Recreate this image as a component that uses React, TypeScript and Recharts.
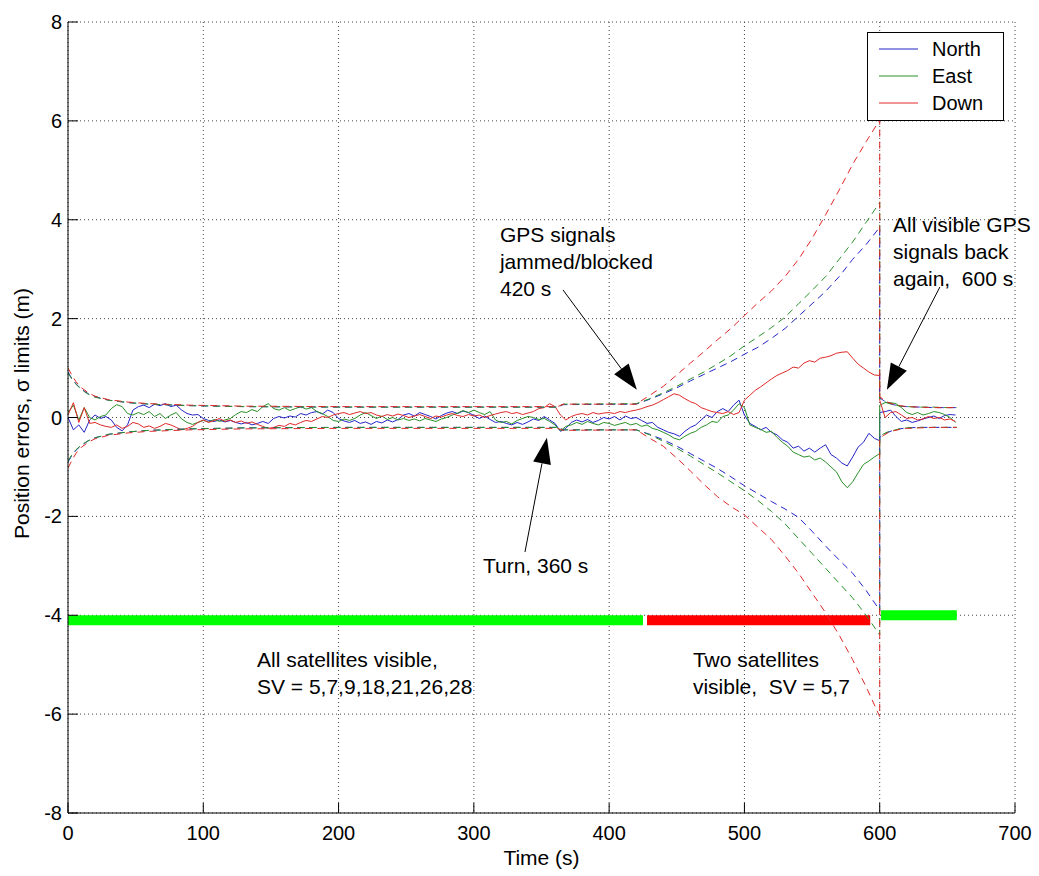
import { LineChart, Line, XAxis, YAxis, CartesianGrid, ReferenceLine, ReferenceDot } from 'recharts'

const FONT = '"Liberation Sans", Arial, Helvetica, sans-serif'

// error traces sampled every 4 s up to 596 s, then the jump at 600 s (before / after), then 604..656 s
const STEP = 4
const NORTH = [
  0.0, -0.25, -0.15, -0.3, -0.05, 0.05, -0.02, 0.02, -0.05, -0.2,
  -0.27, -0.15, 0.15, 0.22, 0.25, 0.2, 0.27, 0.24, 0.28, 0.22,
  0.25, 0.15, 0.08, 0.05, 0.06, -0.02, -0.06, -0.08, -0.05, -0.09,
  -0.06, -0.1, -0.13, -0.1, -0.15, -0.12, -0.08, -0.12, -0.02, 0.02,
  -0.01, 0.03, 0.01, 0.08, 0.05, 0.1, 0.12, 0.07, 0.15, 0.1,
  -0.02, -0.07, -0.1, -0.06, -0.12, -0.09, -0.14, -0.08, -0.11, -0.05,
  -0.09, -0.04, 0.05, 0.08, 0.03, 0.1, 0.06, 0.02, -0.03, 0.04,
  0.09, 0.12, 0.08, 0.13, 0.1, 0.04, -0.02, 0.03, -0.04, -0.1,
  -0.08, -0.12, -0.15, -0.1, -0.14, -0.09, -0.03, -0.06, 0.02, -0.05,
  -0.12, -0.28, -0.22, -0.1, -0.05, -0.09, -0.04, -0.1, -0.06, 0.0,
  -0.03, 0.02, -0.05, 0.03, -0.02, 0.0, -0.06, -0.12, -0.1, -0.2,
  -0.25, -0.3, -0.33, -0.38, -0.28, -0.2, -0.15, -0.05, 0.05, 0.0,
  0.12, 0.18, 0.12, 0.25, 0.35, 0.05, -0.12, -0.18, -0.25, -0.2,
  -0.3, -0.35, -0.45, -0.5, -0.62, -0.58, -0.68, -0.62, -0.7, -0.62,
  -0.55, -0.75, -0.82, -0.92, -0.98, -0.8, -0.6, -0.5, -0.32, -0.42,
]
const NORTH_JUMP = [-0.47, 0.1]
const NORTH_AFTER = [0.12, 0.15, 0.02, -0.08, -0.05, -0.1, -0.07, -0.03, 0.0, 0.03, -0.02, 0.04, 0.06, 0.05]

const EAST = [
  0.1, 0.25, -0.05, 0.2, 0.0, -0.05, 0.02, 0.05, 0.18, 0.26,
  0.22, 0.08, 0.05, 0.1, 0.06, 0.12, 0.02, 0.08, -0.02, 0.05,
  0.1, -0.03, -0.1, -0.14, -0.1, -0.06, -0.09, -0.04, -0.08, -0.05,
  -0.02, 0.06, 0.12, 0.1, 0.16, 0.12, 0.22, 0.28, 0.18, 0.15,
  0.2, 0.14, 0.18, 0.22, 0.17, 0.2, 0.12, 0.08, 0.02, -0.06,
  -0.08, -0.03, -0.06, -0.02, 0.05, 0.1, 0.04, -0.02, 0.03, -0.04,
  0.0, -0.05, -0.02, -0.06, -0.03, -0.07, -0.02, -0.05, -0.08, -0.03,
  0.0, 0.05, 0.09, 0.14, 0.1, 0.15, 0.1, 0.06, 0.12, -0.05,
  -0.1, -0.08, -0.13, -0.06, -0.02, 0.02, 0.0, -0.04, -0.02, -0.08,
  -0.15, -0.27, -0.18, -0.15, -0.1, -0.14, -0.08, -0.12, -0.15, -0.1,
  -0.12, -0.16, -0.13, -0.1, -0.15, -0.12, -0.18, -0.15, -0.22, -0.25,
  -0.3, -0.35, -0.42, -0.45, -0.38, -0.32, -0.28, -0.2, -0.15, -0.08,
  -0.1, 0.02, 0.05, 0.15, 0.28, 0.2, -0.15, -0.2, -0.24, -0.3,
  -0.28, -0.4, -0.5, -0.58, -0.7, -0.75, -0.8, -0.78, -0.86, -0.82,
  -0.9, -1.0, -1.1, -1.3, -1.42, -1.3, -1.12, -0.95, -0.88, -0.8,
]
const EAST_JUMP = [-0.73, 0.25]
const EAST_AFTER = [0.3, 0.3, 0.28, 0.2, 0.1, 0.06, 0.1, 0.05, 0.08, 0.12, 0.1, 0.06, 0.0, -0.1]

const DOWN = [
  0.05, 0.3, -0.1, 0.2, -0.12, -0.1, -0.15, -0.18, -0.2, -0.15,
  -0.22, -0.18, -0.1, -0.13, -0.2, -0.17, -0.22, -0.18, -0.12, -0.15,
  -0.2, -0.25, -0.22, -0.18, -0.1, -0.05, -0.1, -0.06, -0.02, -0.08,
  -0.05, -0.1, -0.07, -0.12, -0.09, -0.14, -0.18, -0.22, -0.2, -0.16,
  -0.18, -0.12, -0.15, -0.1, -0.06, -0.08, -0.03, 0.02, 0.0, 0.05,
  0.08, 0.1, 0.06, 0.09, 0.12, 0.08, 0.1, 0.05, 0.02, 0.06,
  0.03, 0.07, 0.04, 0.0, 0.03, 0.06, 0.02, -0.02, 0.03, 0.01,
  0.05, 0.08, 0.04, 0.02, 0.06, 0.03, 0.05, 0.0, 0.04, 0.07,
  0.1, 0.12, 0.08, 0.1, 0.06, 0.09, 0.12, 0.18, 0.2, 0.28,
  0.22, 0.05, -0.05, 0.02, 0.06, 0.08, 0.05, 0.1, 0.07, 0.09,
  0.1, 0.08, 0.12, 0.1, 0.13, 0.15, 0.18, 0.22, 0.25, 0.3,
  0.36, 0.42, 0.48, 0.45, 0.38, 0.32, 0.28, 0.2, 0.16, 0.12,
  0.1, 0.08, 0.12, 0.06, 0.1, 0.35, 0.45, 0.55, 0.62, 0.7,
  0.78, 0.85, 0.9, 0.95, 1.02, 1.0, 1.1, 1.15, 1.12, 1.2,
  1.22, 1.25, 1.3, 1.32, 1.33, 1.2, 1.08, 1.0, 0.92, 0.86,
]
const DOWN_JUMP = [0.85, 0.35]
const DOWN_AFTER = [0.0, 0.1, 0.12, 0.05, -0.02, 0.0, -0.05, -0.03, 0.02, -0.02, 0.0, -0.05, -0.03, -0.08]

// sigma limits (dashed), read at these times
const SIGMA_TIME = [
  0, 3, 6, 10, 15, 20, 30, 45, 60, 90, 130, 200, 300, 362, 366, 420,
  430, 440, 450, 460, 470, 480, 490, 500, 510, 520, 530, 540, 550, 560, 570, 580, 590, 600,
  600, 603, 606, 610, 615, 620, 630, 640, 650, 657,
]
const NORTH_UP = [
  0.92, 0.78, 0.68, 0.57, 0.48, 0.42, 0.35, 0.3, 0.27, 0.24, 0.22, 0.21, 0.21, 0.21, 0.26, 0.27,
  0.37, 0.48, 0.6, 0.74, 0.87, 1.0, 1.13, 1.28, 1.42, 1.6, 1.8, 2.05, 2.3, 2.55, 2.85, 3.2, 3.5, 3.85,
  0.4, 0.34, 0.3, 0.26, 0.23, 0.22, 0.21, 0.2, 0.2, 0.2,
]
const NORTH_LO = [
  -0.9, -0.76, -0.66, -0.56, -0.47, -0.41, -0.34, -0.29, -0.26, -0.23, -0.21, -0.2, -0.2, -0.2, -0.25, -0.25,
  -0.34, -0.45, -0.58, -0.73, -0.88, -1.03, -1.2, -1.38, -1.54, -1.7, -1.85, -2.02, -2.3, -2.6, -2.88, -3.15, -3.5, -3.9,
  -0.4, -0.34, -0.3, -0.26, -0.23, -0.21, -0.2, -0.2, -0.2, -0.2,
]
const EAST_UP = [
  0.9, 0.77, 0.67, 0.56, 0.47, 0.41, 0.35, 0.3, 0.27, 0.24, 0.22, 0.21, 0.21, 0.21, 0.27, 0.28,
  0.38, 0.5, 0.63, 0.78, 0.92, 1.08, 1.25, 1.45, 1.63, 1.82, 2.03, 2.3, 2.57, 2.85, 3.2, 3.55, 3.95, 4.35,
  0.38, 0.33, 0.29, 0.26, 0.23, 0.22, 0.21, 0.21, 0.2, 0.2,
]
const EAST_LO = [
  -0.88, -0.75, -0.65, -0.55, -0.47, -0.41, -0.34, -0.29, -0.26, -0.23, -0.21, -0.2, -0.2, -0.2, -0.25, -0.25,
  -0.35, -0.48, -0.62, -0.78, -0.95, -1.12, -1.3, -1.48, -1.68, -1.9, -2.15, -2.45, -2.75, -3.05, -3.35, -3.65, -4.0, -4.4,
  -0.38, -0.33, -0.29, -0.26, -0.23, -0.21, -0.2, -0.2, -0.2, -0.2,
]
const DOWN_UP = [
  1.0, 0.85, 0.72, 0.6, 0.5, 0.43, 0.36, 0.31, 0.28, 0.25, 0.23, 0.22, 0.22, 0.22, 0.27, 0.27,
  0.45, 0.63, 0.86, 1.1, 1.33, 1.57, 1.8, 2.06, 2.32, 2.56, 2.85, 3.2, 3.62, 4.1, 4.6, 5.12, 5.58, 6.02,
  0.42, 0.36, 0.31, 0.27, 0.24, 0.22, 0.21, 0.2, 0.2, 0.2,
]
const DOWN_LO = [
  -1.02, -0.86, -0.72, -0.6, -0.5, -0.43, -0.36, -0.31, -0.28, -0.25, -0.23, -0.22, -0.22, -0.22, -0.26, -0.25,
  -0.42, -0.58, -0.82, -1.08, -1.35, -1.6, -1.8, -1.97, -2.22, -2.47, -2.8, -3.15, -3.55, -3.95, -4.4, -4.9, -5.45, -6.05,
  -0.42, -0.36, -0.31, -0.27, -0.24, -0.22, -0.21, -0.2, -0.2, -0.2,
]

// satellite visibility bars
const BAR_START = [0, 428, 601]
const BAR_END = [425, 593, 657]
const BAR_LEVEL = [-4.1, -4.1, -4.0]
const BAR_STATE = ['all', 'two', 'all']

const SERIES = ['North', 'East', 'Down']
const X_TICKS = [0, 100, 200, 300, 400, 500, 600, 700]
const Y_TICKS = [-8, -6, -4, -2, 0, 2, 4, 6, 8]

const NOTE_TEXT = [
  ['GPS signals', 'jammed/blocked', '420 s'],
  ['All visible GPS', 'signals back', 'again,  600 s'],
  ['Turn, 360 s'],
  ['All satellites visible,', 'SV = 5,7,9,18,21,26,28'],
  ['Two satellites', 'visible,  SV = 5,7'],
]
const NOTE_AT = [
  [319.3, 3.56],
  [609.8, 3.75],
  [306.7, -3.15],
  [139.7, -5.05],
  [461.9, -5.05],
]
// arrows: [tail t, tail v, head t, head v]
const ARROWS = [
  [365.9, 2.58, 420.5, 0.56],
  [337.8, -2.72, 354, -0.41],
  [644.5, 2.64, 605.3, 0.56],
]

const COLORS: Record<string, string> = { North: '#2424c8', East: '#289028', Down: '#e02828' }
const BAR_COLORS: Record<string, string> = { all: '#00ff00', two: '#ff0000' }

const errTime = [
  ...NORTH.map((_, i) => i * STEP),
  600, 600,
  ...NORTH_AFTER.map((_, i) => 604 + i * STEP),
]
const zip = (ts: number[], vs: number[]) => ts.map((t, i) => ({ t, v: vs[i] }))

const errors = [
  { name: 'North', data: zip(errTime, [...NORTH, ...NORTH_JUMP, ...NORTH_AFTER]) },
  { name: 'East', data: zip(errTime, [...EAST, ...EAST_JUMP, ...EAST_AFTER]) },
  { name: 'Down', data: zip(errTime, [...DOWN, ...DOWN_JUMP, ...DOWN_AFTER]) },
]
const sigmas = [
  { name: 'North', key: 'nu', data: zip(SIGMA_TIME, NORTH_UP) },
  { name: 'North', key: 'nl', data: zip(SIGMA_TIME, NORTH_LO) },
  { name: 'East', key: 'eu', data: zip(SIGMA_TIME, EAST_UP) },
  { name: 'East', key: 'el', data: zip(SIGMA_TIME, EAST_LO) },
  { name: 'Down', key: 'du', data: zip(SIGMA_TIME, DOWN_UP) },
  { name: 'Down', key: 'dl', data: zip(SIGMA_TIME, DOWN_LO) },
]
const bars = BAR_START.map((s, i) => ({
  color: BAR_COLORS[BAR_STATE[i]],
  data: [{ t: s, v: BAR_LEVEL[i] }, { t: BAR_END[i], v: BAR_LEVEL[i] }],
}))

function XTick({ x, y, payload }: any) {
  return (
    <g>
      <line x1={x} y1={y} x2={x} y2={y - 10} stroke="#000" />
      <text x={x} y={y + 27} textAnchor="middle" fontSize={20} fontFamily={FONT} fill="#000">
        {payload.value}
      </text>
    </g>
  )
}

function YTick({ x, y, payload }: any) {
  return (
    <g>
      <line x1={x} y1={y} x2={x + 10} y2={y} stroke="#000" />
      <text x={x - 6} y={y + 7} textAnchor="end" fontSize={20} fontFamily={FONT} fill="#000">
        {payload.value}
      </text>
    </g>
  )
}

function Arrow(props: any) {
  const { x1, y1, x2, y2 } = props
  const dx = x2 - x1
  const dy = y2 - y1
  const len = Math.hypot(dx, dy)
  const ux = dx / len
  const uy = dy / len
  const hl = 26
  const hw = 9
  const bx = x2 - ux * hl
  const by = y2 - uy * hl
  const pts = `${x2},${y2} ${bx - uy * hw},${by + ux * hw} ${bx + uy * hw},${by - ux * hw}`
  return (
    <g>
      <line x1={x1} y1={y1} x2={bx} y2={by} stroke="#000" strokeWidth={1} />
      <polygon points={pts} fill="#000" />
    </g>
  )
}

function noteShape(lines: string[]) {
  return (p: any) => (
    <text x={p.cx} y={p.cy} fontSize={21} fontFamily={FONT} fill="#000" style={{ whiteSpace: 'pre' }}>
      {lines.map((l, i) => (
        <tspan key={i} x={p.cx} dy={i === 0 ? 0 : 27}>
          {l}
        </tspan>
      ))}
    </text>
  )
}

export default function App() {
  return (
    <div style={{ position: 'relative', width: 1039, height: 876, background: '#fff' }}>
      <style>{'body{margin:0}'}</style>
      <LineChart width={1039} height={876} margin={{ top: 22, right: 24, bottom: 0, left: 8 }}>
        <CartesianGrid stroke="#444" strokeDasharray="1 3" />
        <XAxis
          type="number"
          dataKey="t"
          domain={[0, 700]}
          ticks={X_TICKS}
          allowDataOverflow
          height={63}
          tickSize={0}
          tickMargin={0}
          tickLine={false}
          axisLine={{ stroke: '#000' }}
          tick={<XTick />}
          label={({ viewBox }: any) => (
            <text
              x={viewBox.x + viewBox.width / 2}
              y={865}
              textAnchor="middle"
              fontSize={21}
              fontFamily={FONT}
              fill="#000"
            >
              Time (s)
            </text>
          )}
        />
        <YAxis
          type="number"
          domain={[-8, 8]}
          ticks={Y_TICKS}
          allowDataOverflow
          width={60}
          tickSize={0}
          tickMargin={0}
          tickLine={false}
          axisLine={{ stroke: '#000' }}
          tick={<YTick />}
          label={({ viewBox }: any) => {
            const cy = viewBox.y + viewBox.height / 2 - 4
            return (
              <text
                x={29}
                y={cy}
                transform={`rotate(-90 29 ${cy})`}
                textAnchor="middle"
                fontSize={21}
                fontFamily={FONT}
                fill="#000"
              >
                Position errors, σ limits (m)
              </text>
            )
          }}
        />
        {bars.map((b, i) => (
          <Line
            key={'bar' + i}
            data={b.data}
            dataKey="v"
            type="linear"
            stroke={b.color}
            strokeWidth={10}
            strokeLinecap="butt"
            dot={false}
            activeDot={false}
            isAnimationActive={false}
          />
        ))}
        {errors.map((s) => (
          <Line
            key={'err' + s.name}
            data={s.data}
            dataKey="v"
            type="linear"
            stroke={COLORS[s.name]}
            strokeWidth={1}
            dot={false}
            activeDot={false}
            isAnimationActive={false}
          />
        ))}
        {sigmas.map((s) => (
          <Line
            key={'sig' + s.key}
            data={s.data}
            dataKey="v"
            type="linear"
            stroke={COLORS[s.name]}
            strokeWidth={1}
            strokeDasharray="7 5"
            dot={false}
            activeDot={false}
            isAnimationActive={false}
          />
        ))}
        {ARROWS.map((a, i) => (
          <ReferenceLine
            key={'arrow' + i}
            segment={[{ x: a[0], y: a[1] }, { x: a[2], y: a[3] }]}
            ifOverflow="visible"
            shape={Arrow}
          />
        ))}
        {NOTE_TEXT.map((lines, i) => (
          <ReferenceDot
            key={'note' + i}
            x={NOTE_AT[i][0]}
            y={NOTE_AT[i][1]}
            r={0}
            ifOverflow="visible"
            shape={noteShape(lines)}
          />
        ))}
      </LineChart>
      <svg
        width={137}
        height={89}
        style={{ position: 'absolute', left: 867, top: 32 }}
      >
        <rect x={0.5} y={0.5} width={136} height={88} fill="#fff" stroke="#000" />
        {SERIES.map((name, i) => (
          <g key={name}>
            <line x1={12} x2={51} y1={17 + i * 27} y2={17 + i * 27} stroke={COLORS[name]} />
            <text x={65} y={17 + i * 27 + 7} fontSize={20} fontFamily={FONT} fill="#000">
              {name}
            </text>
          </g>
        ))}
      </svg>
    </div>
  )
}
